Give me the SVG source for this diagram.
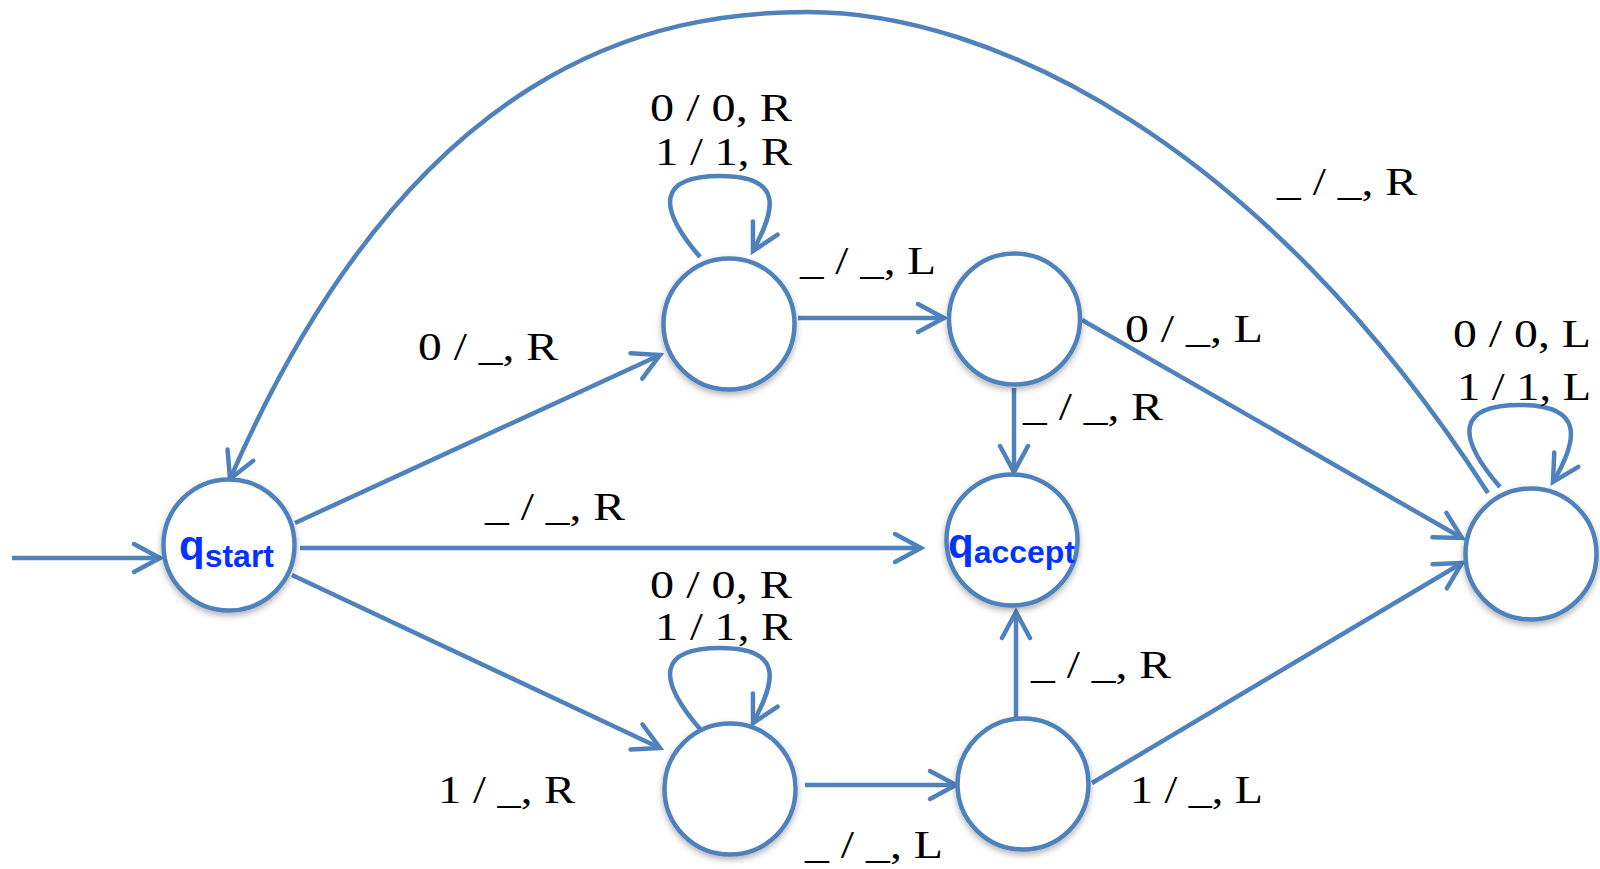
<svg xmlns="http://www.w3.org/2000/svg" width="1600" height="869" viewBox="0 0 1600 869">
<defs>
<filter id="sh" x="-20%" y="-20%" width="140%" height="150%">
<feDropShadow dx="0" dy="3" stdDeviation="3" flood-color="#000" flood-opacity="0.3"/>
</filter>
<marker id="arr" markerUnits="userSpaceOnUse" markerWidth="40" markerHeight="40" viewBox="-32 -20 40 40" refX="0" refY="0" orient="auto">
<path d="M -26,-14 L 0,0 L -26,14" fill="none" stroke="#4F81BD" stroke-width="4.5" stroke-linecap="round" stroke-linejoin="miter"/>
</marker>
<style>
.st{fill:#fff;stroke:#4F81BD;stroke-width:4.5;filter:url(#sh)}
.e{fill:none;stroke:#4F81BD;stroke-width:4.5;marker-end:url(#arr)}
.lb{font-family:"Liberation Serif","Times New Roman",serif;font-size:41px;fill:#000}
.nm{font-family:"Liberation Sans",Arial,sans-serif;font-weight:bold;fill:#0433FF}
</style>
</defs>
<rect width="1600" height="869" fill="#fff"/>
<g id="connectors">
<path class="e" d="M 12,558 L 160,558"/>
<path class="e" d="M 295,523 L 660,355"/>
<path class="e" d="M 300,548 L 921,548"/>
<path class="e" d="M 292,575 L 660,748"/>
<path class="e" d="M 798,318 L 944,318"/>
<path class="e" d="M 1014,388 L 1014,472"/>
<path class="e" d="M 1082,320 L 1462,538"/>
<path class="e" d="M 805,785 L 956,785"/>
<path class="e" d="M 1016,720 L 1016,612"/>
<path class="e" d="M 1092,783 L 1462,563"/>
<path class="e" d="M 700,257 C 655,205 660,176 720,176 C 785,176 775,210 753,251"/>
<path class="e" d="M 700,729 C 655,677 660,648 720,648 C 785,648 775,682 753,723"/>
<path class="e" d="M 1500,487 C 1455,435 1458,405 1520,405 C 1585,405 1578,440 1553,482"/>
<path class="e" d="M 1488,493 C 1260,140 990,12 807,12 C 657,12 413,59 230,479"/>
</g>
<g id="labels">
<text class="lb" x="650" y="121" textLength="142" lengthAdjust="spacingAndGlyphs">0 / 0, R</text>
<text class="lb" x="655" y="165" textLength="137" lengthAdjust="spacingAndGlyphs">1 / 1, R</text>
<text class="lb" x="800" y="274" textLength="136" lengthAdjust="spacingAndGlyphs">_ / _, L</text>
<text class="lb" x="418" y="360" textLength="140" lengthAdjust="spacingAndGlyphs">0 / _, R</text>
<text class="lb" x="485" y="520" textLength="140" lengthAdjust="spacingAndGlyphs">_ / _, R</text>
<text class="lb" x="438" y="803" textLength="137" lengthAdjust="spacingAndGlyphs">1 / _, R</text>
<text class="lb" x="650" y="598" textLength="142" lengthAdjust="spacingAndGlyphs">0 / 0, R</text>
<text class="lb" x="655" y="640" textLength="137" lengthAdjust="spacingAndGlyphs">1 / 1, R</text>
<text class="lb" x="805" y="858" textLength="138" lengthAdjust="spacingAndGlyphs">_ / _, L</text>
<text class="lb" x="1031" y="678" textLength="140" lengthAdjust="spacingAndGlyphs">_ / _, R</text>
<text class="lb" x="1130" y="803" textLength="133" lengthAdjust="spacingAndGlyphs">1 / _, L</text>
<text class="lb" x="1023" y="420" textLength="140" lengthAdjust="spacingAndGlyphs">_ / _, R</text>
<text class="lb" x="1125" y="342" textLength="138" lengthAdjust="spacingAndGlyphs">0 / _, L</text>
<text class="lb" x="1277" y="195" textLength="140" lengthAdjust="spacingAndGlyphs">_ / _, R</text>
<text class="lb" x="1453" y="347" textLength="138" lengthAdjust="spacingAndGlyphs">0 / 0, L</text>
<text class="lb" x="1457" y="400" textLength="134" lengthAdjust="spacingAndGlyphs">1 / 1, L</text>
</g>
<g id="qstart">
<circle class="st" cx="229" cy="545" r="65.5"/>
<text class="nm" x="179" y="560" font-size="42">q<tspan font-size="32" dy="7">start</tspan></text>
</g>
<g id="qA">
<circle class="st" cx="729" cy="324" r="65.5"/>
</g>
<g id="qB">
<circle class="st" cx="1014.5" cy="319" r="65.5"/>
</g>
<g id="qaccept">
<circle class="st" cx="1012" cy="540" r="65.5"/>
<text class="nm" x="948" y="558" font-size="42">q<tspan font-size="32" dy="5">accept</tspan></text>
</g>
<g id="qC">
<circle class="st" cx="730" cy="789" r="65.5"/>
</g>
<g id="qD">
<circle class="st" cx="1023" cy="784" r="65.5"/>
</g>
<g id="qE">
<circle class="st" cx="1531" cy="554" r="65.5"/>
</g>
</svg>
